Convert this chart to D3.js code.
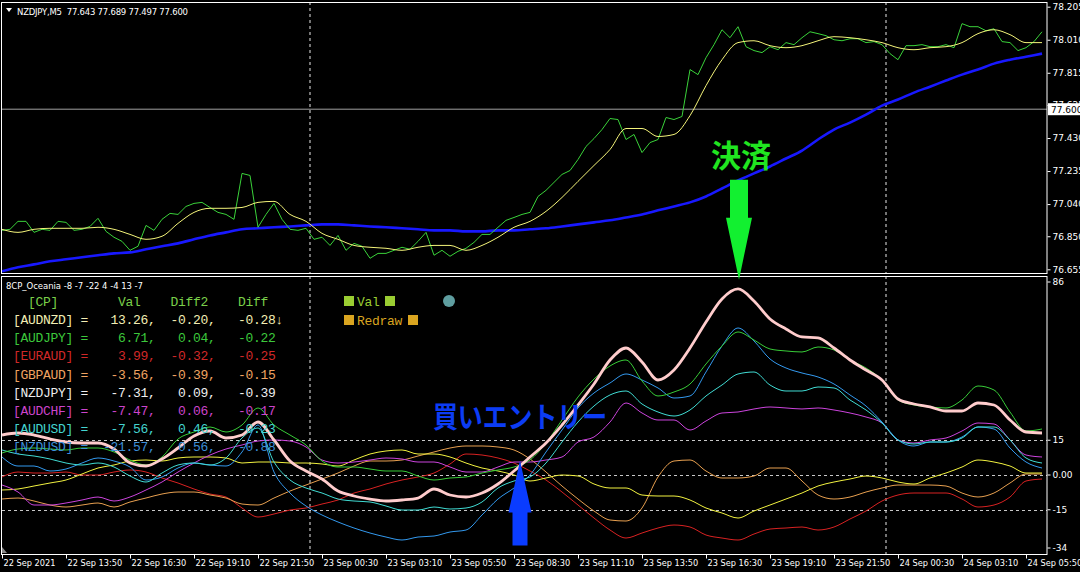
<!DOCTYPE html>
<html><head><meta charset="utf-8">
<script src="https://cdn.jsdelivr.net/npm/d3@7"></script>
<style>html,body{margin:0;padding:0;background:#000;}svg{display:block;}</style>
</head><body>
<svg id="c" width="1080" height="572"></svg>
<script>
// ---------------- DATA ----------------
// NZDJPY M5 close, sampled every 4 bars from 22 Sep 11:10
const priceClose = [
76.885,76.891,76.938,76.938,76.873,76.891,76.885,76.938,76.932,76.885,
76.891,76.908,76.956,76.879,76.844,76.820,76.767,76.791,76.914,76.885,
76.950,76.985,76.979,77.026,77.044,77.050,77.020,76.991,76.979,76.950,
77.221,77.209,76.903,76.979,77.044,76.950,76.891,76.885,76.897,76.832,
76.844,76.796,76.855,76.767,76.808,76.791,76.720,76.749,76.749,76.767,
76.785,76.773,76.820,76.873,76.738,76.767,76.732,76.761,76.779,76.814,
76.861,76.861,76.903,76.944,76.961,76.979,76.991,77.085,77.121,77.168,
77.215,77.238,77.303,77.380,77.427,77.480,77.545,77.539,77.421,77.451,
77.344,77.403,77.421,77.551,77.539,77.557,77.834,77.804,77.904,77.981,
78.069,78.022,78.087,77.969,77.946,77.934,77.969,77.951,77.993,77.981,
78.022,78.057,78.046,78.034,78.010,78.004,78.016,78.016,77.993,77.999,
77.981,77.928,77.892,77.975,77.975,77.981,77.969,77.969,77.981,77.963,
78.105,78.087,78.087,78.063,78.075,77.999,77.993,77.946,77.963,77.999,78.057];
// moving averages, sampled every 8 bars
const maFast = [
76.891,76.873,76.891,76.897,76.897,76.897,76.903,76.891,76.861,76.832,
76.850,76.926,76.991,77.015,77.015,77.020,77.050,77.056,76.979,76.938,
76.867,76.832,76.796,76.785,76.779,76.767,76.785,76.796,76.796,76.767,
76.796,76.844,76.903,76.938,76.997,77.079,77.174,77.268,77.362,77.486,
77.486,77.439,77.451,77.562,77.739,77.892,77.993,78.004,77.975,77.963,
77.975,78.004,78.028,78.022,78.010,77.993,77.963,77.951,77.963,77.969,
77.993,78.046,78.069,78.040,77.993,77.993];
const maSlow = [
76.643,76.667,76.684,76.702,76.714,76.726,76.738,76.749,76.755,76.773,
76.791,76.808,76.832,76.855,76.873,76.891,76.897,76.903,76.908,76.914,
76.920,76.920,76.914,76.908,76.903,76.897,76.891,76.885,76.885,76.879,
76.879,76.885,76.885,76.891,76.897,76.908,76.920,76.932,76.944,76.961,
76.979,77.003,77.026,77.050,77.085,77.132,77.179,77.221,77.262,77.309,
77.356,77.421,77.480,77.521,77.568,77.621,77.657,77.698,77.733,77.769,
77.804,77.834,77.869,77.892,77.910,77.928];
const lastPrice = 77.600;
const priceTicks = [78.205,78.010,77.815,77.625,77.430,77.235,77.040,76.850,76.655];

// 8CP_Oceania strength lines, sampled every 8 bars
const sAUDNZD = [
-6.47,-6.04,-4.75,-3.45,-2.16,0.43,3.02,4.32,6.04,6.47,
6.04,7.34,7.77,7.77,7.34,5.18,5.61,5.61,5.18,5.18,
4.75,3.88,6.47,9.06,10.36,10.79,9.06,9.06,7.77,5.18,
3.02,1.73,0.00,-2.59,-1.29,0.00,-0.43,-3.88,-5.61,-5.61,
-8.63,-9.06,-9.06,-10.79,-14.24,-16.40,-18.56,-15.54,-12.95,-10.36,
-7.77,-4.75,-3.02,-1.73,-0.43,-1.29,-3.02,-3.88,-1.29,0.86,
3.45,6.47,5.61,3.88,0.86,0.86];
const sAUDJPY = [
9.50,11.22,11.65,11.22,10.79,11.65,11.65,9.93,6.47,4.32,
7.77,15.54,18.56,20.72,18.56,21.58,28.92,21.58,17.26,12.95,
6.04,3.45,3.45,2.59,1.73,1.73,-0.43,-2.16,-1.29,-0.86,
0.86,2.16,3.45,6.47,13.81,23.74,33.66,41.43,47.04,49.63,
40.57,34.10,35.82,39.27,47.91,55.68,61.72,58.26,54.38,53.52,
53.09,55.24,53.95,49.63,46.18,41.00,32.37,30.21,29.35,28.92,
32.37,38.41,36.69,27.19,18.99,19.85];
const sEURAUD = [
-0.86,1.29,0.86,0.86,1.29,0.00,0.00,1.29,2.16,1.29,
-1.29,-3.45,-6.04,-8.20,-9.50,-14.24,-18.13,-16.83,-15.11,-14.24,
-12.52,-10.79,-7.77,-6.04,-3.88,-2.16,-0.86,0.86,4.75,9.06,
8.63,7.34,5.18,1.73,-2.16,-7.34,-12.95,-18.56,-23.74,-27.19,
-25.03,-22.87,-21.58,-22.44,-25.90,-27.19,-28.05,-25.46,-23.31,-22.87,
-22.44,-23.74,-22.44,-18.99,-15.54,-11.22,-8.63,-7.77,-7.77,-7.77,
-10.36,-13.81,-12.95,-9.50,-2.59,-1.73];
const sGBPAUD = [
-10.36,-9.93,-11.22,-12.95,-13.81,-12.95,-12.08,-13.81,-11.65,-9.93,
-8.20,-7.34,-7.34,-8.63,-9.93,-12.52,-12.95,-9.93,-6.91,-4.32,
-1.73,0.86,3.88,6.04,6.04,6.47,8.20,9.93,11.65,12.52,
12.52,12.08,10.79,6.91,1.29,-4.75,-10.36,-15.54,-19.42,-19.85,
-14.24,-0.86,6.04,6.47,1.73,-1.29,-1.29,-0.43,3.02,3.02,
-2.59,-8.63,-10.36,-9.50,-7.34,-5.61,-4.32,-4.32,-4.32,-4.75,
-7.77,-9.50,-7.77,-3.45,0.43,0.43];
const sNZDJPY = [
17.26,18.13,17.26,15.54,14.24,13.81,13.81,11.22,5.18,3.88,
6.91,11.65,16.83,18.99,15.97,17.26,22.87,15.11,6.04,1.73,
-1.73,-6.91,-9.06,-10.36,-11.22,-10.79,-9.93,-6.04,-8.63,-9.50,
-7.77,-3.88,1.73,7.77,13.81,21.58,30.21,39.27,49.63,54.81,
48.77,41.00,45.32,54.81,66.03,75.96,80.28,75.10,67.33,63.01,
59.56,59.13,54.81,49.63,45.32,41.00,32.80,30.64,29.35,27.62,
27.62,31.07,30.21,23.74,18.56,18.13];
const sAUDCHF = [
-4.32,-7.34,-12.95,-12.95,-12.08,-10.79,-9.50,-11.22,-9.50,-6.47,
-3.02,1.29,5.18,8.63,11.22,12.95,14.67,15.11,14.67,12.08,
6.47,5.18,5.61,6.47,7.34,6.91,5.61,5.61,3.45,1.29,
1.29,3.45,5.61,5.61,6.47,7.77,14.24,16.40,22.87,31.07,
26.76,23.74,23.74,19.42,23.31,26.76,27.19,28.49,29.35,28.92,
28.49,28.92,28.05,26.76,25.03,22.44,15.11,13.81,15.11,15.97,
18.99,22.44,22.01,15.11,8.63,7.77];
const sAUDUSD = [
10.79,9.06,8.20,6.91,5.18,4.32,5.18,3.45,-0.43,-3.02,
0.86,4.32,5.18,4.32,7.34,15.97,20.28,5.61,-2.16,-5.61,
-7.77,-10.36,-11.22,-11.65,-13.38,-15.11,-15.11,-13.81,-14.67,-14.24,
-11.65,-5.61,-2.59,-0.86,5.18,14.24,22.87,29.78,34.53,36.25,
30.64,27.19,25.46,28.05,34.10,38.84,43.59,44.45,38.84,36.25,
36.25,37.98,37.55,32.37,28.05,22.44,15.11,13.38,14.24,14.24,
15.97,20.72,20.72,15.11,7.34,5.18];
const sNZDUSD = [
7.77,3.88,3.88,1.73,2.59,5.18,7.34,6.04,3.45,-2.16,
-0.86,3.02,5.18,4.32,3.88,9.93,21.58,1.29,-7.77,-13.38,
-17.26,-20.28,-22.87,-25.03,-26.76,-28.05,-26.76,-26.33,-24.60,-23.74,
-17.26,-10.36,-5.61,0.00,9.93,19.42,28.92,35.39,39.71,43.59,
41.00,37.55,33.23,34.10,44.45,55.68,63.44,57.83,50.06,46.18,
44.02,42.30,39.27,34.53,29.78,22.87,15.11,12.52,14.24,14.24,
16.40,20.72,19.85,11.65,5.61,3.02];
const indTicks = [86, 15, 0, -15, -34];
const indLevels = [15, 0, -15];

// table in the sub-window
const pairNames = ['AUDNZD','AUDJPY','EURAUD','GBPAUD','NZDJPY','AUDCHF','AUDUSD','NZDUSD'];
const pairVal   = [13.26, 6.71, 3.99, -3.56, -7.31, -7.47, -7.56, -21.57];
const pairDiff2 = [-0.20, 0.04, -0.32, -0.39, 0.09, 0.06, 0.46, 0.56];
const pairDiff  = [-0.28, -0.22, -0.25, -0.15, -0.39, -0.17, -0.23, -0.88];

const timeLabels = ['22 Sep 2021','22 Sep 13:50','22 Sep 16:30','22 Sep 19:10','22 Sep 21:50',
'23 Sep 00:30','23 Sep 03:10','23 Sep 05:50','23 Sep 08:30','23 Sep 11:10','23 Sep 13:50',
'23 Sep 16:30','23 Sep 19:10','23 Sep 21:50','24 Sep 00:30','24 Sep 03:10','24 Sep 05:50'];
const barsPerLabel = 32;      // 2h40m of M5 bars
const daySeparatorBars = [154, 442]; // 23 Sep 00:00, 24 Sep 00:00
const priceStep = 4, maStep = 8, indStep = 8;
const entryMark = {bar: 259, level: 6.3, text: '買いエントリー'};
const exitMark  = {bar: 368.5, level: 84.3, text: '決済'};

// ---------------- CHART ----------------
const W = 1080, H = 572;
const L = 2, R = 1047, topT = 2, topB = 273, botT = 276, botB = 554;
const svg = d3.select('#c');
svg.append('rect').attr('width', W).attr('height', H).attr('fill', '#000');

const xBar = d3.scaleLinear().domain([0, 522.5]).range([L, R]);
const yTop = d3.scaleLinear().domain([76.655, 78.205]).range([269.3, 6.7]);
const yBot = d3.scaleLinear().domain([-34, 86]).range([553.8, 275.7]);

const defs = svg.append('defs');
defs.append('clipPath').attr('id', 'cpTop').append('rect').attr('x', L).attr('y', topT).attr('width', R - L).attr('height', topB - topT);
defs.append('clipPath').attr('id', 'cpBot').append('rect').attr('x', L).attr('y', botT).attr('width', R - L).attr('height', botB - botT);

const UI = "'DejaVu Sans', 'Liberation Sans', sans-serif";

// ---- top panel ----
const gTop = svg.append('g');
gTop.append('line').attr('x1', L).attr('x2', R).attr('y1', yTop(lastPrice)).attr('y2', yTop(lastPrice))
  .attr('stroke', '#a0a0a0').attr('stroke-width', 1);
daySeparatorBars.forEach(b => {
  gTop.append('line').attr('x1', xBar(b)).attr('x2', xBar(b)).attr('y1', topT).attr('y2', topB)
    .attr('stroke', '#e8e8e8').attr('stroke-dasharray', '3,3');
});
const gTopLines = gTop.append('g').attr('clip-path', 'url(#cpTop)');
gTopLines.append('path').datum(maSlow)
  .attr('d', d3.line().x((d, i) => xBar(i * maStep)).y(d => yTop(d)).curve(d3.curveMonotoneX))
  .attr('fill', 'none').attr('stroke', '#1818ff').attr('stroke-width', 2.6);
gTopLines.append('path').datum(priceClose)
  .attr('d', d3.line().x((d, i) => xBar(i * priceStep)).y(d => yTop(d)))
  .attr('fill', 'none').attr('stroke', '#3ad23a').attr('stroke-width', 1);
gTopLines.append('path').datum(maFast)
  .attr('d', d3.line().x((d, i) => xBar(i * maStep)).y(d => yTop(d)).curve(d3.curveMonotoneX))
  .attr('fill', 'none').attr('stroke', '#f4f47a').attr('stroke-width', 1);
gTop.append('rect').attr('x', L - 0.5).attr('y', topT + 0.5).attr('width', R - L + 0.5).attr('height', topB - topT)
  .attr('fill', 'none').attr('stroke', '#fff').attr('stroke-width', 1);

const axTop = svg.append('g').attr('transform', `translate(${R + 0.5},0)`)
  .call(d3.axisRight(yTop).tickValues(priceTicks).tickFormat(d3.format('.3f')).tickSize(3));
axTop.select('.domain').remove();
axTop.selectAll('line').attr('stroke', '#fff');
axTop.selectAll('text').attr('fill', '#fff').attr('font-family', UI).attr('font-size', 9).attr('x', 5);
// current price box
const yLP = yTop(lastPrice);
svg.append('rect').attr('x', R + 1).attr('y', yLP - 6).attr('width', W - R).attr('height', 12).attr('fill', '#fff');
svg.append('text').attr('x', R + 4).attr('y', yLP + 3.5).text(lastPrice.toFixed(3))
  .attr('fill', '#000').attr('font-family', UI).attr('font-size', 9);

// title
svg.append('path').attr('d', 'M6,8 L12,8 L9,12 Z').attr('fill', '#fff');
svg.append('text').attr('x', 17).attr('y', 14.5).text('NZDJPY,M5  77.643 77.689 77.497 77.600')
  .attr('fill', '#fff').attr('font-family', UI).attr('font-size', 8.5).attr('textLength', 171)
  .style('white-space', 'pre');

// ---- bottom panel ----
const gBot = svg.append('g');
indLevels.forEach(v => {
  gBot.append('line').attr('x1', L).attr('x2', R).attr('y1', Math.round(yBot(v)) + 0.5).attr('y2', Math.round(yBot(v)) + 0.5)
    .attr('stroke', '#c8c8c8').attr('stroke-dasharray', '3,3');
});
daySeparatorBars.forEach(b => {
  gBot.append('line').attr('x1', xBar(b)).attr('x2', xBar(b)).attr('y1', botT).attr('y2', botB)
    .attr('stroke', '#e8e8e8').attr('stroke-dasharray', '3,3');
});

// sub-window title and table
svg.append('text').attr('x', 6).attr('y', 288.5).text('8CP_Oceania -8 -7 -22 4 -4 13 -7')
  .attr('fill', '#fff').attr('font-family', UI).attr('font-size', 8.5).attr('textLength', 137).style('white-space', 'pre');
const MONO = "'Liberation Mono', 'DejaVu Sans Mono', monospace";
const pad = (s, n) => (' '.repeat(n) + s).slice(-n);
const txtColors = ['#f2eeb4', '#3cc83c', '#d02828', '#f0a462', '#eeeeee', '#cc44cc', '#44d4d0', '#3c8fd8'];
const tbl = svg.append('g').attr('font-family', MONO).attr('font-size', 13).attr('letter-spacing', -0.3);
tbl.append('text').attr('x', 13).attr('y', 306).style('white-space', 'pre')
  .attr('fill', '#7ad04a').text('  [CP]        Val    Diff2    Diff');
pairNames.forEach((n, i) => {
  const s = `[${n}] =  ${pad(pairVal[i].toFixed(2), 6)},  ${pad(pairDiff2[i].toFixed(2), 5)},   ${pad(pairDiff[i].toFixed(2), 5)}` + (i === 0 ? '↓' : '');
  tbl.append('text').attr('x', 13).attr('y', 324.2 + i * 18.1).style('white-space', 'pre')
    .attr('fill', txtColors[i]).text(s);
});
// Val / Redraw markers
const lg = svg.append('g').attr('font-family', MONO).attr('font-size', 13).attr('letter-spacing', -0.3);
lg.append('rect').attr('x', 344).attr('y', 296).attr('width', 10).attr('height', 10).attr('fill', '#9acd32');
lg.append('text').attr('x', 357).attr('y', 306).attr('fill', '#9acd32').text('Val');
lg.append('rect').attr('x', 385).attr('y', 296).attr('width', 10).attr('height', 10).attr('fill', '#9acd32');
lg.append('rect').attr('x', 344).attr('y', 315).attr('width', 10).attr('height', 10).attr('fill', '#daa520');
lg.append('text').attr('x', 357).attr('y', 325).attr('fill', '#daa520').text('Redraw');
lg.append('rect').attr('x', 408).attr('y', 315).attr('width', 10).attr('height', 10).attr('fill', '#daa520');
lg.append('circle').attr('cx', 449).attr('cy', 301).attr('r', 6).attr('fill', '#5f9ea0');

// lines
const seriesList = [
  {v: sEURAUD, c: '#d82222', w: 1},
  {v: sGBPAUD, c: '#e8a050', w: 1},
  {v: sAUDNZD, c: '#f2f240', w: 1},
  {v: sAUDCHF, c: '#cc44dd', w: 1},
  {v: sNZDUSD, c: '#3399ee', w: 1},
  {v: sAUDUSD, c: '#40dcd4', w: 1},
  {v: sAUDJPY, c: '#38cc38', w: 1},
  {v: sNZDJPY, c: '#ffcccc', w: 2.8}
];
const gBotLines = gBot.append('g').attr('clip-path', 'url(#cpBot)');
const indLine = d3.line().x((d, i) => xBar(i * indStep)).y(d => yBot(d)).curve(d3.curveMonotoneX);
seriesList.forEach(s => {
  gBotLines.append('path').datum(s.v).attr('d', indLine).attr('fill', 'none')
    .attr('stroke', s.c).attr('stroke-width', s.w).attr('stroke-linejoin', 'round');
});
gBot.append('rect').attr('x', L - 0.5).attr('y', botT + 0.5).attr('width', R - L + 0.5).attr('height', botB - botT)
  .attr('fill', 'none').attr('stroke', '#fff').attr('stroke-width', 1);

const axBot = svg.append('g').attr('transform', `translate(${R + 0.5},0)`)
  .call(d3.axisRight(yBot).tickValues(indTicks).tickFormat(d => d === 0 ? '0.00' : String(d)).tickSize(3));
axBot.select('.domain').remove();
axBot.selectAll('line').attr('stroke', '#fff');
axBot.selectAll('text').attr('fill', '#fff').attr('font-family', UI).attr('font-size', 9).attr('x', 5);
axBot.selectAll('.tick').attr('transform', d => `translate(0,${Math.max(282, Math.min(548, yBot(d)))})`);

// time axis
const axX = svg.append('g').attr('transform', `translate(0,${botB + 0.5})`)
  .call(d3.axisBottom(xBar).tickValues(timeLabels.map((t, i) => i * barsPerLabel))
    .tickFormat((d, i) => timeLabels[i]).tickSize(4));
axX.select('.domain').remove();
axX.selectAll('line').attr('stroke', '#fff');
axX.selectAll('text').attr('fill', '#fff').attr('font-family', UI).attr('font-size', 8.2)
  .attr('text-anchor', 'start').attr('x', 1).attr('y', 6);
svg.append('path').attr('d', `M${L},547 L${L},553 L${L + 5},553 Z`).attr('fill', '#8a8a8a');

// ---- annotations ----
// exit (決済) arrow pointing down at the NZDJPY peak
{
  const tx = xBar(exitMark.bar), ty = yBot(exitMark.level);
  const headL = 62, headW = 13, shaftW = 9, shaftL = 38;
  svg.append('path').attr('fill', '#12f030')
    .attr('d', `M${tx},${ty} L${tx - headW},${ty - headL} L${tx - shaftW},${ty - headL} L${tx - shaftW},${ty - headL - shaftL}
      L${tx + shaftW},${ty - headL - shaftL} L${tx + shaftW},${ty - headL} L${tx + headW},${ty - headL} Z`);
  svg.append('text').attr('x', tx + 2).attr('y', ty - headL - shaftL - 13).attr('text-anchor', 'middle')
    .attr('font-family', "'Noto Sans CJK JP', sans-serif").attr('font-weight', 700).attr('font-size', 31)
    .attr('fill', '#20e620').attr('textLength', 60).attr('lengthAdjust', 'spacingAndGlyphs').text(exitMark.text);
}
// entry (買いエントリー) arrow pointing up
{
  const tx = xBar(entryMark.bar), ty = yBot(entryMark.level);
  const headL = 52, headW = 11.5, shaftW = 7.5, shaftL = 33;
  svg.append('path').attr('fill', '#0a3cff')
    .attr('d', `M${tx},${ty} L${tx - headW},${ty + headL} L${tx - shaftW},${ty + headL} L${tx - shaftW},${ty + headL + shaftL}
      L${tx + shaftW},${ty + headL + shaftL} L${tx + shaftW},${ty + headL} L${tx + headW},${ty + headL} Z`);
  svg.append('text').attr('x', tx - 87).attr('y', ty - 32)
    .attr('font-family', "'Noto Sans CJK JP', sans-serif").attr('font-weight', 700).attr('font-size', 29)
    .attr('fill', '#0c3cf4').attr('textLength', 174).attr('lengthAdjust', 'spacingAndGlyphs').text(entryMark.text);
}
</script>
</body></html>
